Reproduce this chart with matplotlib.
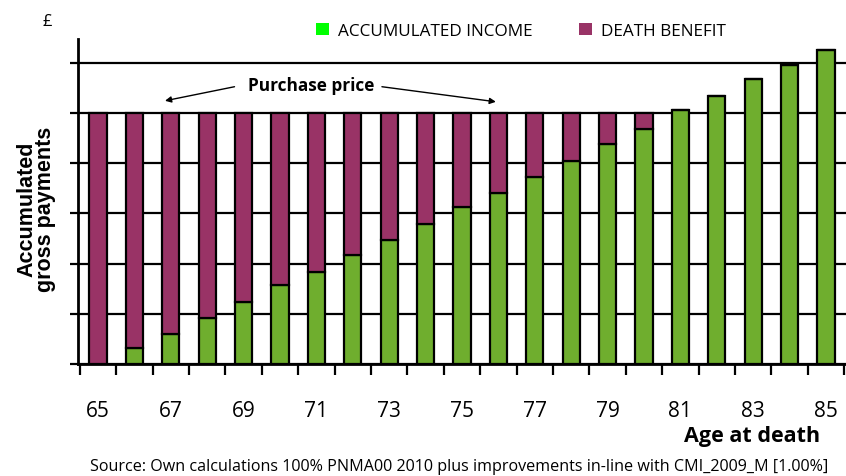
import numpy as np
import matplotlib
matplotlib.use('Agg')
import matplotlib.pyplot as plt
from matplotlib.patches import Patch

plt.rcParams['font.family'] = ['Open Sans', 'DejaVu Sans']

ages = list(range(65, 86))
# accumulated income, in units of the gridline spacing (purchase price = 5)
income = [0.0, 0.31, 0.60, 0.92, 1.24, 1.57, 1.84, 2.17, 2.47, 2.79, 3.12,
          3.41, 3.73, 4.05, 4.38, 4.68, 5.05, 5.34, 5.68, 5.96, 6.26]
purchase_price = 5.0
death_benefit = [max(purchase_price - v, 0.0) for v in income]
tick_labels = [str(a) for a in ages[::2]]

green = '#6FAE2E'
purple = '#993366'

fig = plt.figure(figsize=(8.46, 4.77), dpi=100)
ax = fig.add_axes([78/846, 112/477, 768/846, 325/477])

x = np.arange(len(ages))
ax.set_axisbelow(True)
ax.grid(axis='y', color='black', linewidth=1.6)
ax.bar(x, income, width=0.47, color=green, edgecolor='black', linewidth=1.6, zorder=3)
ax.bar(x, death_benefit, bottom=income, width=0.47, color=purple,
       edgecolor='black', linewidth=1.6, zorder=3)

ax.set_xlim(-0.55, len(ages) - 0.45)
ax.set_ylim(0, 6.47)
ax.set_yticks(np.arange(0, 7))
ax.set_yticklabels([])
ax.tick_params(axis='y', length=6, width=1.6, direction='out')

ax.set_xticks(x[::2])
ax.set_xticklabels(tick_labels, fontsize=15)
ax.tick_params(axis='x', which='major', length=0, pad=26)
ax.set_xticks(np.arange(-0.5, len(ages)), minor=True)
ax.tick_params(axis='x', which='minor', length=8, width=1.6, direction='out')

for s in ['top', 'right']:
    ax.spines[s].set_visible(False)
for s in ['left', 'bottom']:
    ax.spines[s].set_linewidth(2)

ax.set_ylabel('Accumulated\ngross payments', fontsize=15.5, fontweight='bold',
              family=['Liberation Sans', 'DejaVu Sans'], linespacing=0.85)
ax.yaxis.set_label_coords(-0.028, 0.48)

fig.text(42/846, 1 - 22/477, '£', fontsize=12, ha='left', va='center')

handles = [Patch(facecolor='#00FF00', edgecolor='none'),
           Patch(facecolor=purple, edgecolor='none')]
fig.legend(handles, ['ACCUMULATED INCOME', 'DEATH BENEFIT'], ncol=2,
           loc='center left', bbox_to_anchor=(301/846, 1 - 32/477),
           frameon=False, fontsize=12.3, handlelength=0.75, handleheight=0.75,
           handletextpad=0.5, columnspacing=2.75)

ax.text(5.86, 5.56, 'Purchase price', ha='center', va='center',
        fontsize=12.4, fontweight='bold')
ax.annotate('', xy=(1.84, 5.24), xytext=(3.75, 5.52),
            arrowprops=dict(arrowstyle='-|>', color='black', lw=1,
                            mutation_scale=9, shrinkA=0, shrinkB=0))
ax.annotate('', xy=(10.93, 5.22), xytext=(7.8, 5.52),
            arrowprops=dict(arrowstyle='-|>', color='black', lw=1,
                            mutation_scale=9, shrinkA=0, shrinkB=0))

fig.text(752/846, 1 - 437/477, 'Age at death', fontsize=15.5, fontweight='bold',
         ha='center', va='center')
fig.text(459/846, 1 - 467/477,
         'Source: Own calculations 100% PNMA00 2010 plus improvements in-line with CMI_2009_M [1.00%]',
         fontsize=11.6, ha='center', va='center')

plt.savefig('out.png', dpi=100)
